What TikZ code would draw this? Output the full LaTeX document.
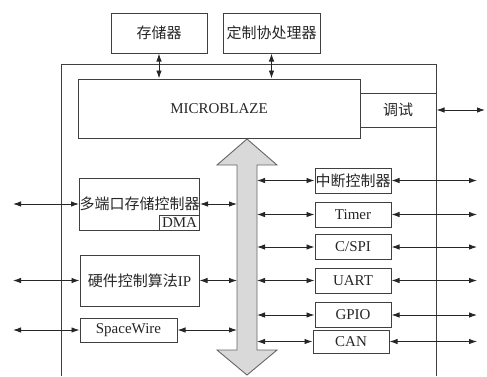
\documentclass[tikz,border=0pt]{standalone}
\usepackage{fontspec}
\setmainfont{Liberation Serif}
\newfontfamily\cjk{Noto Sans CJK SC}
\usetikzlibrary{arrows.meta}
\tikzset{
  blk/.style={draw=black!75, line width=1pt, minimum width=76pt, minimum height=25pt, inner sep=1pt, text=black!85},
  link/.style={<->, draw=black!85, line width=0.9pt},
}
\begin{document}
\begin{tikzpicture}[>={Latex[length=8pt,width=5.5pt]}, x=1pt, y=-1pt, font=\fontsize{15}{17}\selectfont]
  \useasboundingbox (0,0) rectangle (487,376);
  % outer frame
  \draw[black!75, line width=1pt] (61,376) -- (61,64) -- (436,64) -- (436,376);
  \coordinate (edgeL) at (13,0);
  \coordinate (edgeR) at (477,0);
  % top part
  \node[blk, minimum width=96pt, minimum height=40pt] (mem) at (159,33) {\cjk 存储器};
  \node[blk, minimum width=97pt, minimum height=40pt] (cop) at (271.5,33) {\cjk 定制协处理器};
  \node[blk, minimum width=282pt, minimum height=59pt] (cpu) at (219,108.5) {MICROBLAZE};
  \node[blk, minimum width=76pt, minimum height=34pt] (dbg) at (398,110) {\cjk 调试};
  \coordinate (dbgout) at (485,110);
  \draw[link] (mem.south) -- (mem.south |- cpu.north);
  \draw[link] (cop.south) -- (cop.south |- cpu.north);
  \draw[link] (dbg.east) -- (dbgout);
  % bus
  \filldraw[fill=black!15, draw=black!60, line width=0.9pt]
    (247,139) -- (277,165) -- (257,165) -- (257,350) -- (277,350) -- (247,375)
    -- (217,350) -- (237,350) -- (237,165) -- (217,165) -- cycle;
  \coordinate (busL) at (237,0);
  \coordinate (busR) at (257,0);
  % left side
  \node[blk, minimum width=119pt, minimum height=52pt, inner sep=0pt] (mpmc) at (139.5,204) {\cjk 多端口存储控制器};
  \node[blk, minimum width=40pt, minimum height=15pt, inner sep=0pt, anchor=south east] (dma) at (mpmc.south east) {DMA};
  \node[blk, minimum width=119pt, minimum height=51pt] (hwip) at (139.5,280.5) {{\cjk 硬件控制算法}IP};
  \node[blk, minimum width=97pt, minimum height=24pt] (spw) at (128.5,330) {SpaceWire};
  \foreach \n in {mpmc,hwip,spw} {
    \draw[link] (\n.west -| edgeL) -- (\n.west);
    \draw[link] (\n.east) -- (\n.east -| busL);
  }
  % right side
  \node[blk, inner sep=0pt] (irq) at (353,180.5) {\cjk 中断控制器};
  \node[blk] (tmr) at (353,214.5) {Timer};
  \node[blk] (spi) at (353,247) {C/SPI};
  \node[blk] (uart) at (353,280.5) {UART};
  \node[blk] (gpio) at (353,315) {GPIO};
  \node[blk, minimum height=23pt] (can) at (351,341.5) {CAN};
  \foreach \n in {irq,tmr,spi,uart,gpio,can} {
    \draw[link] (\n.west -| busR) -- (\n.west);
    \draw[link] (\n.east) -- (\n.east -| edgeR);
  }
\end{tikzpicture}
\end{document}
